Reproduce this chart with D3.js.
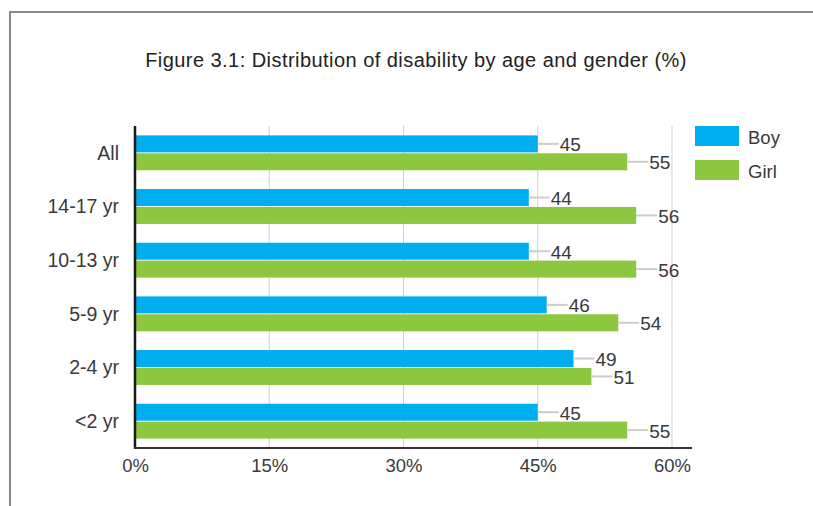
<!DOCTYPE html>
<html>
<head>
<meta charset="utf-8">
<script src="https://cdn.jsdelivr.net/npm/d3@7/dist/d3.min.js"></script>
<style>
  html, body { margin: 0; padding: 0; background: #fff; }
  svg { display: block; font-family: "Liberation Sans", Arial, sans-serif; }
</style>
</head>
<body>
<svg id="chart" width="813" height="506"></svg>
<script>
// Age groups, top to bottom
const categories = ["All", "14-17 yr", "10-13 yr", "5-9 yr", "2-4 yr", "<2 yr"];
// Share of children with disability by gender (%)
const boyValues  = [45, 44, 44, 46, 49, 45];
const girlValues = [55, 56, 56, 54, 51, 55];
const seriesNames = ["Boy", "Girl"];
const seriesColors = ["#00AEEF", "#8DC63F"];
const tickValues = [0, 15, 30, 45, 60];
const title = "Figure 3.1: Distribution of disability by age and gender (%)";

const series = [boyValues, girlValues];

const svg = d3.select("#chart");
const textColor = "#3a3a3a";

// Outer frame (top and left rules)
svg.append("path")
  .attr("d", "M10,506 L10,12 L813,12")
  .attr("fill", "none")
  .attr("stroke", "#8a8a8a")
  .attr("stroke-width", 2);

// Title
svg.append("text")
  .attr("x", 416)
  .attr("y", 60)
  .attr("text-anchor", "middle")
  .attr("dominant-baseline", "central")
  .attr("font-size", 20)
  .attr("letter-spacing", 0.45)
  .attr("fill", "#222")
  .text(title);

const plot = { left: 135, right: 672, top: 126, bottom: 448 };

const x = d3.scaleLinear().domain([0, 60]).range([plot.left, plot.right]);
const y = d3.scaleBand()
  .domain(categories)
  .range([plot.top, plot.bottom])
  .paddingInner(0.35)
  .paddingOuter(0.175);
const ySub = d3.scaleBand()
  .domain(seriesNames)
  .range([0, y.bandwidth()])
  .paddingInner(0.05);

// Vertical gridlines
svg.append("g")
  .selectAll("line")
  .data(tickValues.filter(d => d > 0))
  .join("line")
  .attr("x1", d => x(d)).attr("x2", d => x(d))
  .attr("y1", plot.top).attr("y2", plot.bottom)
  .attr("stroke", "#cfcfcf")
  .attr("stroke-width", 1);

// Bars, leader lines and value labels
const rows = categories.map((c, i) => ({ cat: c, vals: series.map(s => s[i]) }));
const groups = svg.append("g")
  .selectAll("g")
  .data(rows)
  .join("g")
  .attr("transform", d => `translate(0,${y(d.cat)})`);

const items = groups.selectAll("g")
  .data(d => d.vals.map((v, j) => ({ v, name: seriesNames[j], color: seriesColors[j] })))
  .join("g");

items.append("rect")
  .attr("x", x(0))
  .attr("y", d => ySub(d.name))
  .attr("width", d => x(d.v) - x(0))
  .attr("height", ySub.bandwidth())
  .attr("fill", d => d.color);

items.append("line")
  .attr("x1", d => x(d.v))
  .attr("x2", d => x(d.v) + 21)
  .attr("y1", d => ySub(d.name) + ySub.bandwidth() / 2)
  .attr("y2", d => ySub(d.name) + ySub.bandwidth() / 2)
  .attr("stroke", "#cccccc")
  .attr("stroke-width", 2);

items.append("text")
  .attr("x", d => x(d.v) + 22)
  .attr("y", d => ySub(d.name) + ySub.bandwidth() / 2 + 1)
  .attr("dominant-baseline", "central")
  .attr("font-size", 19)
  .attr("fill", textColor)
  .text(d => d.v);

// Category axis
const yAxis = svg.append("g")
  .attr("transform", `translate(${plot.left - 16},0)`)
  .call(d3.axisLeft(y).tickSize(0).tickPadding(0));
yAxis.select(".domain").remove();
yAxis.selectAll("text")
  .attr("font-size", 19.5)
  .attr("font-family", "Liberation Sans, Arial, sans-serif")
  .attr("fill", textColor)
  .attr("dy", "0.35em");

// Value axis
const xAxis = svg.append("g")
  .attr("transform", `translate(0,${plot.bottom + 18})`)
  .call(d3.axisBottom(x).tickValues(tickValues).tickSize(0).tickPadding(0).tickFormat(d => d + "%"));
xAxis.select(".domain").remove();
xAxis.selectAll("text")
  .attr("font-size", 18.5)
  .attr("font-family", "Liberation Sans, Arial, sans-serif")
  .attr("fill", textColor)
  .attr("dy", "0.35em");

// Axis rules
svg.append("line")
  .attr("x1", plot.left).attr("x2", plot.left)
  .attr("y1", plot.top).attr("y2", plot.bottom + 1)
  .attr("stroke", "#1a1a1a").attr("stroke-width", 2.5);
svg.append("line")
  .attr("x1", plot.left - 1).attr("x2", 692)
  .attr("y1", plot.bottom).attr("y2", plot.bottom)
  .attr("stroke", "#333").attr("stroke-width", 2);

// Legend
const legend = svg.append("g")
  .selectAll("g")
  .data(seriesNames)
  .join("g")
  .attr("transform", (d, i) => `translate(695,${126 + i * 34})`);
legend.append("rect")
  .attr("width", 44).attr("height", 20)
  .attr("fill", (d, i) => seriesColors[i]);
legend.append("text")
  .attr("x", 53).attr("y", 11)
  .attr("dominant-baseline", "central")
  .attr("font-size", 18.5)
  .attr("fill", textColor)
  .text(d => d);
</script>
</body>
</html>
